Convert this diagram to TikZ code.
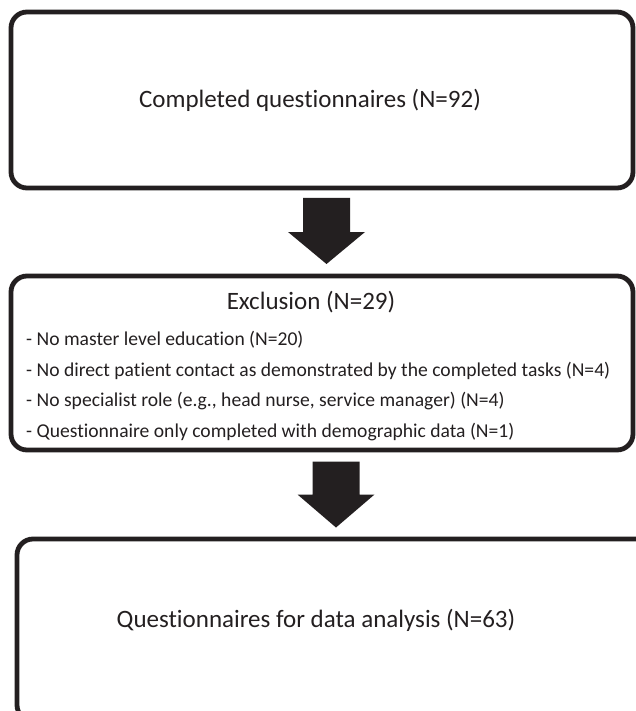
\documentclass[tikz,border=0pt]{standalone}
\usepackage{fontspec}
\setmainfont{Carlito}[Ligatures=NoCommon]
\usetikzlibrary{calc}
\definecolor{ink}{HTML}{231F20}
\begin{document}
\begin{tikzpicture}[x=1pt,y=-1pt,
  box/.style={draw=ink, line width=4.8pt, rounded corners=16pt, inner sep=0pt},
  big/.style={text=ink, font=\fontsize{25}{30}\selectfont},
  small/.style={text=ink, font=\fontsize{19.6}{30.6}\selectfont, align=left, anchor=west, inner sep=0pt},
  fat/.style={fill=ink}]
\clip (0,0) rectangle (636,711);

% boxes
\node[box, minimum width=622pt, minimum height=176pt] (done) at (322,100) {};
\node[big] (donetxt) at (310,100) {Completed questionnaires (N=92)};

\node[box, minimum width=622pt, minimum height=174pt] (excl) at (322,363) {};
\node[big] (excltxt) at (311,302) {Exclusion (N=29)};
\node[small] (excllist) at (26,386) {- No master level education (N=20)\\
- No direct patient contact as demonstrated by the completed tasks (N=4)\\
- No specialist role (e.g., head nurse, service manager) (N=4)\\
- Questionnaire only completed with demographic data (N=1)};

\node[box, minimum width=640pt, minimum height=182pt] (used) at (337,630) {};
\node[big] (usedtxt) at (316,620) {Questionnaires for data analysis (N=63)};

% block arrows
\coordinate (a1) at ($(done.south)!0.5!(excl.north)+(4.5,0)$);
\fill[fat] ($(a1)+(-23.5,-34)$) -- ++(47,0) -- ++(0,34) -- ++(15,0) -- ++(-38.5,32)
  -- ++(-38.5,-32) -- ++(15,0) -- cycle;
\coordinate (a2) at ($(excl.south)!0.5!(used.north)+(6.5,0)$);
\fill[fat] ($(a2)+(-23.5,-33)$) -- ++(47,0) -- ++(0,33) -- ++(15,0) -- ++(-38.5,33)
  -- ++(-38.5,-33) -- ++(15,0) -- cycle;

\end{tikzpicture}
\end{document}
